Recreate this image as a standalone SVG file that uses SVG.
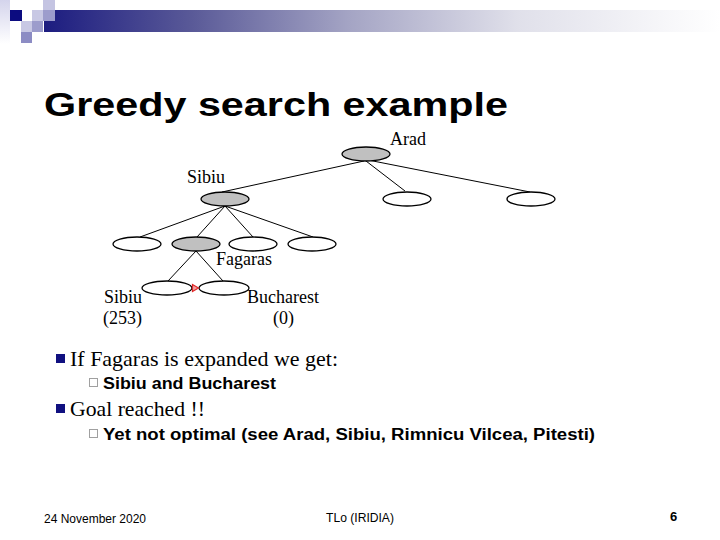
<svg xmlns="http://www.w3.org/2000/svg" width="720" height="540" viewBox="0 0 720 540">
<defs>
<linearGradient id="bar" x1="0" y1="0" x2="1" y2="0">
<stop offset="0" stop-color="#1c1c80"/>
<stop offset="0.22" stop-color="#5a5a98"/>
<stop offset="0.45" stop-color="#a4a4c4"/>
<stop offset="0.7" stop-color="#e0e0ea"/>
<stop offset="1" stop-color="#ffffff"/>
</linearGradient>
<linearGradient id="side" x1="0" y1="0" x2="0" y2="1">
<stop offset="0" stop-color="#d4d4ec"/>
<stop offset="1" stop-color="#ffffff"/>
</linearGradient>
<style>
.n{fill:#fff;stroke:#000;stroke-width:1.3}
.g{fill:#c0c0c0;stroke:#000;stroke-width:1.3}
.e{stroke:#000;stroke-width:1;fill:none}
.t{font-family:"Liberation Serif","Times New Roman",serif;font-size:18px;fill:#000}
.b1{font-family:"Liberation Serif","Times New Roman",serif;font-size:22px;fill:#000}
.b2{font-family:"Liberation Sans",Arial,sans-serif;font-size:16px;font-weight:bold;fill:#000}
.f{font-family:"Liberation Sans",Arial,sans-serif;font-size:13px;fill:#000}
.sq{fill:#101080}
.hs{fill:#fff;stroke:#a0a0a0;stroke-width:1}
</style>
</defs>
<g id="header">
<rect x="0" y="0" width="10" height="44" fill="url(#side)"/>
<rect x="44" y="10" width="676" height="22" fill="url(#bar)"/>
<rect x="10" y="10" width="12" height="11" fill="#0c0c80"/>
<rect x="32" y="10" width="11" height="11" fill="#c8c8e4"/>
<rect x="43" y="0" width="12" height="10" fill="#c4c4e2"/>
<rect x="43" y="10" width="12" height="11" fill="#9c9ccc"/>
<rect x="21" y="21" width="11" height="11" fill="#c8c8e4"/>
<rect x="32" y="21" width="11" height="11" fill="#9c9ccc"/>
<rect x="21" y="32" width="11" height="11" fill="#8c8cc4"/>
</g>
<text id="title" x="44" y="116" font-family="'Liberation Sans',Arial,sans-serif" font-size="34" font-weight="bold" textLength="464" lengthAdjust="spacingAndGlyphs">Greedy search example</text>
<g id="connectors">
<line class="e" x1="364" y1="161" x2="222" y2="192"/>
<line class="e" x1="366" y1="161" x2="405" y2="191"/>
<line class="e" x1="368" y1="160" x2="530" y2="192"/>
<line class="e" x1="225" y1="206" x2="140" y2="237"/>
<line class="e" x1="225" y1="206" x2="197" y2="237"/>
<line class="e" x1="225" y1="206" x2="253" y2="237"/>
<line class="e" x1="225" y1="206" x2="313" y2="237"/>
<line class="e" x1="196" y1="251" x2="168" y2="281"/>
<line class="e" x1="196" y1="251" x2="223" y2="281"/>
</g>
<g id="arad"><ellipse class="g" cx="366" cy="154" rx="24" ry="7"/><text class="t" x="390" y="145">Arad</text></g>
<g id="sibiu"><ellipse class="g" cx="225" cy="199" rx="24" ry="7"/><text class="t" x="187" y="183">Sibiu</text></g>
<g id="n_mid"><ellipse class="n" cx="407" cy="199" rx="24" ry="7"/></g>
<g id="n_right"><ellipse class="n" cx="531" cy="199" rx="24" ry="7"/></g>
<g id="n_s1"><ellipse class="n" cx="137" cy="244" rx="24" ry="7"/></g>
<g id="fagaras"><ellipse class="g" cx="196" cy="244" rx="24" ry="7"/><text class="t" x="216" y="265">Fagaras</text></g>
<g id="n_s3"><ellipse class="n" cx="253" cy="244" rx="24" ry="7"/></g>
<g id="n_s4"><ellipse class="n" cx="312" cy="244" rx="24" ry="7"/></g>
<g id="sibiu2"><ellipse class="n" cx="167" cy="288" rx="25" ry="7"/><text class="t" x="104" y="303">Sibiu</text><text class="t" x="103" y="324">(253)</text></g>
<g id="bucharest"><ellipse class="n" cx="224" cy="288" rx="25" ry="7"/><text class="t" x="247" y="303">Bucharest</text><text class="t" x="273" y="324">(0)</text></g>
<g id="cursor"><polygon points="192.5,284.5 198.5,288 192.5,291.5" fill="#f0a0a0" stroke="#e02828" stroke-width="1.2"/></g>
<g id="bullets">
<rect class="sq" x="56" y="354" width="9" height="9"/>
<text class="b1" x="70" y="366" textLength="268" lengthAdjust="spacingAndGlyphs">If Fagaras is expanded we get:</text>
<rect class="hs" x="89.5" y="378.5" width="8" height="8"/>
<text class="b2" x="103" y="389" textLength="173" lengthAdjust="spacingAndGlyphs">Sibiu and Bucharest</text>
<rect class="sq" x="56" y="404" width="9" height="9"/>
<text class="b1" x="70" y="416" textLength="135" lengthAdjust="spacingAndGlyphs">Goal reached !!</text>
<rect class="hs" x="89.5" y="429.5" width="8" height="8"/>
<text class="b2" x="103" y="440" textLength="492" lengthAdjust="spacingAndGlyphs">Yet not optimal (see Arad, Sibiu, Rimnicu Vilcea, Pitesti)</text>
</g>
<g id="footer">
<text class="f" x="44" y="523" textLength="102" lengthAdjust="spacingAndGlyphs">24 November 2020</text>
<text class="f" x="326" y="522" textLength="68" lengthAdjust="spacingAndGlyphs">TLo (IRIDIA)</text>
<text class="f" x="670" y="521" font-weight="bold">6</text>
</g>
</svg>
